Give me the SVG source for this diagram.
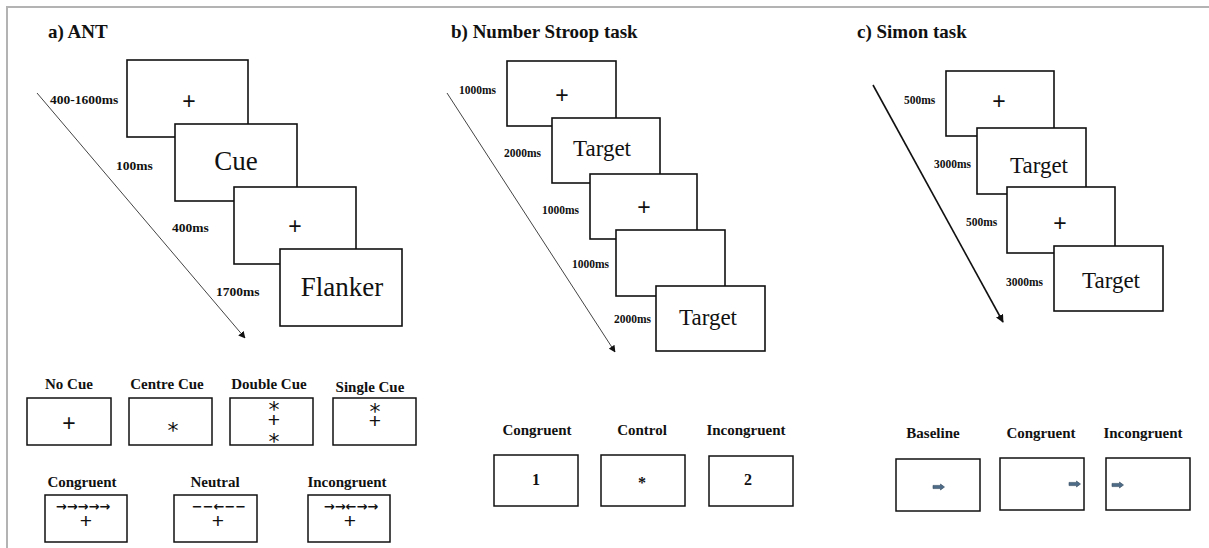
<svg xmlns="http://www.w3.org/2000/svg" width="1209" height="548" viewBox="0 0 1209 548">
<style>
.frame{fill:none;stroke:#b3b3b3;stroke-width:2}
.scr{fill:#fff;stroke:#111;stroke-width:1.6}
.sm{fill:#fff;stroke:#111;stroke-width:1.5}
.title{font-family:'Liberation Serif','Times New Roman','DejaVu Serif',serif;font-weight:bold;font-size:19px;fill:#111}
.tA{font-family:'Liberation Serif','Times New Roman','DejaVu Serif',serif;font-weight:bold;font-size:13.5px;fill:#111}
.tB{font-family:'Liberation Serif','Times New Roman','DejaVu Serif',serif;font-weight:bold;font-size:11.5px;fill:#111}
.big{font-family:'Liberation Serif','Times New Roman','DejaVu Serif',serif;font-size:27px;fill:#111;text-anchor:middle}
.tgt{font-family:'Liberation Serif','Times New Roman','DejaVu Serif',serif;font-size:23px;fill:#111;text-anchor:middle}
.plus{font-family:'Liberation Sans',Arial,sans-serif;font-size:23px;fill:#111;text-anchor:middle}
.plusS{font-family:'Liberation Sans',Arial,sans-serif;font-size:21px;fill:#111;text-anchor:middle}
.ast{font-family:'DejaVu Sans',sans-serif;font-size:22px;fill:#111;text-anchor:middle}
.cond{font-family:'Liberation Serif','Times New Roman','DejaVu Serif',serif;font-weight:bold;font-size:15px;fill:#111;text-anchor:middle}
.arr{font-family:'DejaVu Sans',sans-serif;font-weight:bold;font-size:13px;fill:#111;text-anchor:middle}
.num{font-family:'Liberation Serif','Times New Roman','DejaVu Serif',serif;font-weight:bold;font-size:16px;fill:#111;text-anchor:middle}
.line{fill:none;stroke:#444;stroke-width:1}
.lineC{fill:none;stroke:#111;stroke-width:1.6}
.blk{fill:#4d6a86;stroke:#33495e;stroke-width:0.6}
</style>
<defs>
<marker id="ah" viewBox="0 0 10 10" refX="9" refY="5" markerWidth="7" markerHeight="7" markerUnits="userSpaceOnUse" orient="auto">
<path d="M0,0 L10,5 L0,10 z" fill="#111"/>
</marker>
<marker id="ahC" viewBox="0 0 10 10" refX="9" refY="5" markerWidth="8" markerHeight="8" markerUnits="userSpaceOnUse" orient="auto">
<path d="M0,0 L10,5 L0,10 z" fill="#111"/>
</marker>
<path id="blkArrow" class="blk" d="M0,-1.6 L7.5,-1.6 L7.5,-3 L11.5,0 L7.5,3 L7.5,1.6 L0,1.6 z"/>
</defs>
<rect width="1209" height="548" fill="#fff"/>
<path class="frame" d="M7,548 L7,7 L1209,7"/>

<!-- Titles -->
<text class="title" x="48" y="38">a) ANT</text>
<text class="title" x="451" y="38">b) Number Stroop task</text>
<text class="title" x="857" y="38">c) Simon task</text>

<!-- Connectors -->
<g id="connectors">
<line class="line" x1="37" y1="93" x2="245" y2="338" marker-end="url(#ah)"/>
<line class="line" x1="447" y1="93" x2="615" y2="352" marker-end="url(#ah)"/>
<line class="lineC" x1="873" y1="85" x2="1003" y2="322" marker-end="url(#ahC)"/>
</g>

<!-- Panel a: sequence -->
<g id="a-fix1"><rect class="scr" x="127" y="60" width="121" height="77"/><text class="plus" x="189" y="109">+</text></g>
<g id="a-cue"><rect class="scr" x="175" y="124" width="122" height="77"/><text class="big" x="236" y="170">Cue</text></g>
<g id="a-fix2"><rect class="scr" x="234" y="187" width="122" height="77"/><text class="plus" x="295" y="234">+</text></g>
<g id="a-flanker"><rect class="scr" x="280" y="249" width="122" height="77"/><text class="big" x="342" y="296">Flanker</text></g>
<g id="a-times">
<text class="tA" x="50" y="104">400-1600ms</text>
<text class="tA" x="116" y="170">100ms</text>
<text class="tA" x="172" y="232">400ms</text>
<text class="tA" x="216" y="296">1700ms</text>
</g>

<!-- Panel a: cue conditions -->
<g id="a-nocue"><text class="cond" x="69" y="389">No Cue</text><rect class="sm" x="27" y="398" width="84" height="47"/><text class="plus" x="69" y="431">+</text></g>
<g id="a-centrecue"><text class="cond" x="167" y="389">Centre Cue</text><rect class="sm" x="129" y="398" width="83" height="47"/><text class="ast" x="173" y="438">*</text></g>
<g id="a-doublecue"><text class="cond" x="269" y="389">Double Cue</text><rect class="sm" x="230" y="398" width="83" height="47"/><text class="ast" x="274" y="417">*</text><text class="plusS" x="274" y="427">+</text><text class="ast" x="274" y="449">*</text></g>
<g id="a-singlecue"><text class="cond" x="370" y="392">Single Cue</text><rect class="sm" x="333" y="398" width="83" height="47"/><text class="ast" x="375" y="419">*</text><text class="plusS" x="375" y="428">+</text></g>

<!-- Panel a: flanker conditions -->
<g id="a-congruent"><text class="cond" x="82" y="487">Congruent</text><rect class="sm" x="45" y="495" width="82" height="47"/><text class="arr" x="83" y="510.5">→→→→→</text><text class="plusS" x="86" y="528">+</text></g>
<g id="a-neutral"><text class="cond" x="215" y="487">Neutral</text><rect class="sm" x="174" y="495" width="83" height="47"/><text class="arr" x="219" y="510.5">−−←−−</text><text class="plusS" x="218" y="528">+</text></g>
<g id="a-incongruent"><text class="cond" x="347" y="487">Incongruent</text><rect class="sm" x="308" y="495" width="82" height="47"/><text class="arr" x="351" y="510.5">→→←→→</text><text class="plusS" x="350" y="528">+</text></g>

<!-- Panel b: sequence -->
<g id="b-fix1"><rect class="scr" x="507" y="61" width="109" height="65"/><text class="plus" x="562" y="103">+</text></g>
<g id="b-target1"><rect class="scr" x="552" y="118" width="108" height="65"/><text class="tgt" x="602" y="156">Target</text></g>
<g id="b-fix2"><rect class="scr" x="590" y="174" width="107" height="65"/><text class="plus" x="644" y="215">+</text></g>
<g id="b-blank"><rect class="scr" x="616" y="230" width="109" height="66"/></g>
<g id="b-target2"><rect class="scr" x="656" y="286" width="109" height="65"/><text class="tgt" x="708" y="325">Target</text></g>
<g id="b-times">
<text class="tB" x="459" y="94">1000ms</text>
<text class="tB" x="504" y="157">2000ms</text>
<text class="tB" x="542" y="214">1000ms</text>
<text class="tB" x="572" y="268">1000ms</text>
<text class="tB" x="614" y="323">2000ms</text>
</g>

<!-- Panel b: conditions -->
<g id="b-congruent"><text class="cond" x="537" y="435">Congruent</text><rect class="sm" x="494" y="455" width="84" height="51"/><text class="num" x="536" y="485">1</text></g>
<g id="b-control"><text class="cond" x="642" y="435">Control</text><rect class="sm" x="601" y="455" width="84" height="51"/><text class="num" x="642" y="488">*</text></g>
<g id="b-incongruent"><text class="cond" x="746" y="435">Incongruent</text><rect class="sm" x="709" y="456" width="84" height="50"/><text class="num" x="748" y="485">2</text></g>

<!-- Panel c: sequence -->
<g id="c-fix1"><rect class="scr" x="946" y="71" width="108" height="65"/><text class="plus" x="999" y="109">+</text></g>
<g id="c-target1"><rect class="scr" x="977" y="128" width="109" height="66"/><text class="tgt" x="1039" y="173">Target</text></g>
<g id="c-fix2"><rect class="scr" x="1007" y="187" width="108" height="66"/><text class="plus" x="1060" y="231">+</text></g>
<g id="c-target2"><rect class="scr" x="1054" y="246" width="109" height="65"/><text class="tgt" x="1111" y="288">Target</text></g>
<g id="c-times">
<text class="tB" x="904" y="104">500ms</text>
<text class="tB" x="934" y="168">3000ms</text>
<text class="tB" x="966" y="226">500ms</text>
<text class="tB" x="1006" y="286">3000ms</text>
</g>

<!-- Panel c: conditions -->
<g id="c-baseline"><text class="cond" x="933" y="438">Baseline</text><rect class="sm" x="896" y="459" width="84" height="52"/><use href="#blkArrow" x="933" y="487"/></g>
<g id="c-congruent"><text class="cond" x="1041" y="438">Congruent</text><rect class="sm" x="1000" y="458" width="84" height="52"/><use href="#blkArrow" x="1069" y="484"/></g>
<g id="c-incongruent"><text class="cond" x="1143" y="438">Incongruent</text><rect class="sm" x="1106" y="458" width="84" height="52"/><use href="#blkArrow" x="1112" y="485"/></g>
</svg>
